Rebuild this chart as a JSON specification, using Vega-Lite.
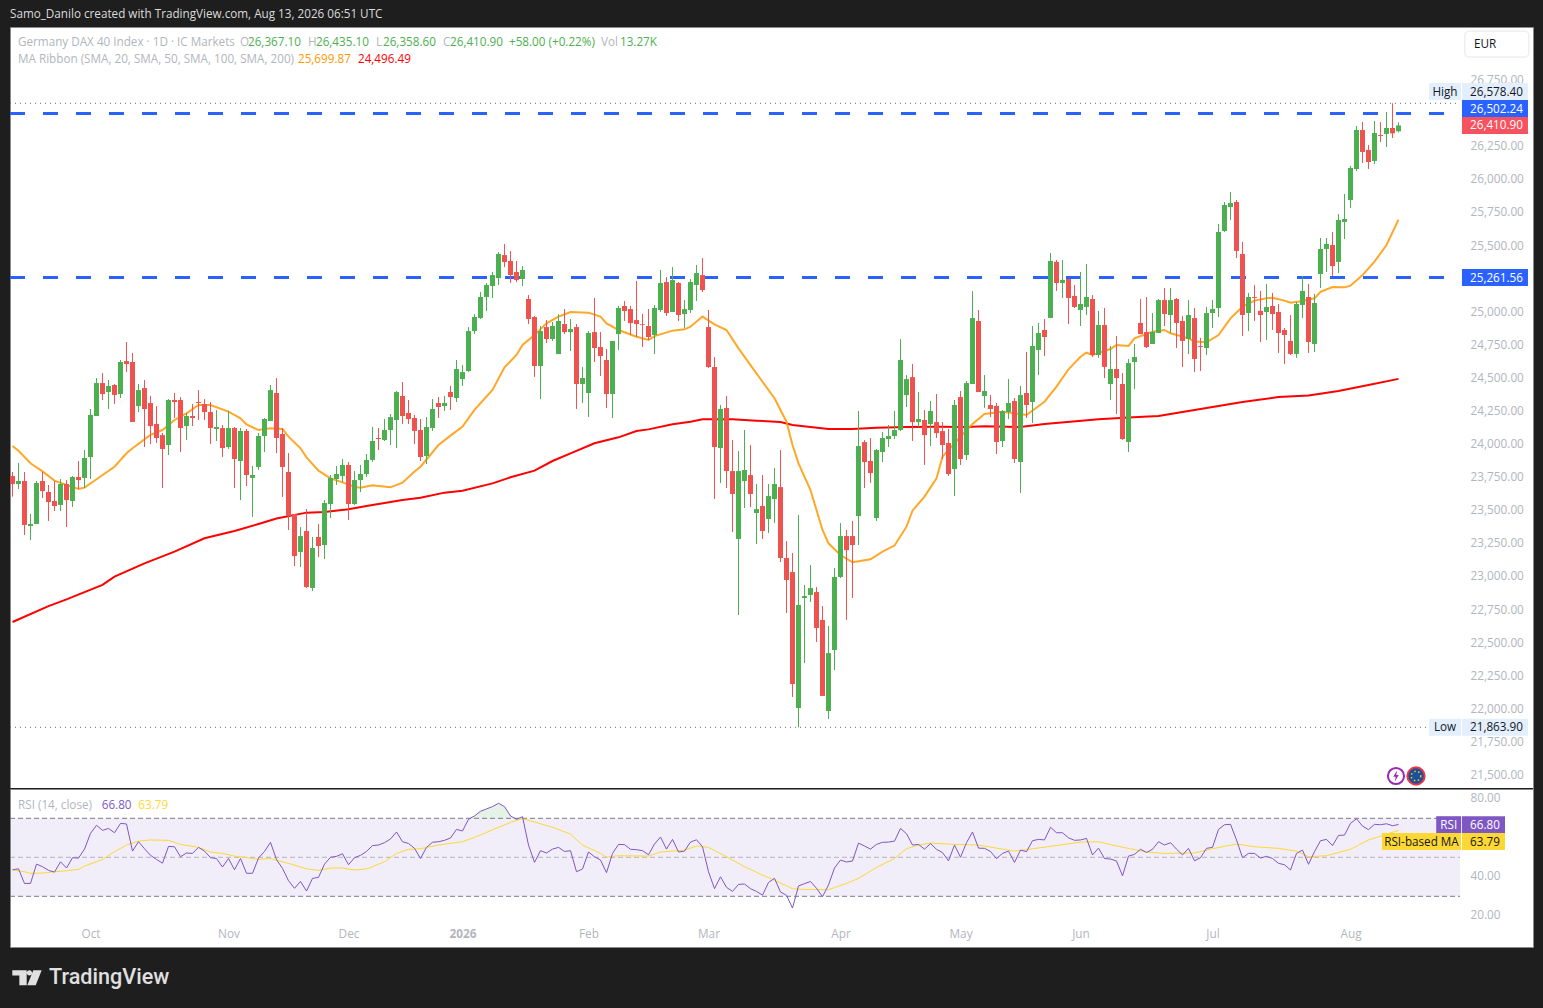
{
  "$schema": "https://vega.github.io/schema/vega-lite/v6.json",
  "background": "#1e1e1e",
  "padding": {"left": 8, "right": 8, "top": 0, "bottom": 0},
  "bounds": "flush",
  "spacing": 0,
  "resolve": {"scale": {"color": "independent"}},
  "config": {
    "text": {"font": "Open Sans", "fontSize": 11.7},
    "axis": {"labelFont": "Open Sans", "labelFontSize": 11.8, "labelColor": "#b2b5be"}
  },
  "datasets": {
    "candles": [
      {"i":0,"o":23763,"h":23793,"l":23607,"c":23702},{"i":1,"o":23702,"h":23861,"l":23664,"c":23725},{"i":2,"o":23725,"h":23793,"l":23317,"c":23393},{"i":3,"o":23385,"h":23476,"l":23279,"c":23400},
      {"i":4,"o":23400,"h":23725,"l":23400,"c":23710},{"i":5,"o":23725,"h":23793,"l":23597,"c":23649},{"i":6,"o":23642,"h":23695,"l":23423,"c":23566},{"i":7,"o":23574,"h":23725,"l":23498,"c":23536},
      {"i":8,"o":23544,"h":23740,"l":23498,"c":23702},{"i":9,"o":23702,"h":23732,"l":23377,"c":23581},{"i":10,"o":23574,"h":23763,"l":23529,"c":23755},{"i":11,"o":23755,"h":23876,"l":23664,"c":23732},
      {"i":12,"o":23748,"h":23959,"l":23672,"c":23899},{"i":13,"o":23906,"h":24269,"l":23740,"c":24224},{"i":14,"o":24216,"h":24503,"l":24216,"c":24465},{"i":15,"o":24465,"h":24541,"l":24337,"c":24382},
      {"i":16,"o":24397,"h":24488,"l":24269,"c":24443},{"i":17,"o":24450,"h":24458,"l":24307,"c":24375},{"i":18,"o":24382,"h":24639,"l":24352,"c":24624},{"i":19,"o":24631,"h":24775,"l":24548,"c":24609},
      {"i":20,"o":24624,"h":24692,"l":24171,"c":24171},{"i":21,"o":24291,"h":24458,"l":24246,"c":24412},{"i":22,"o":24427,"h":24488,"l":23982,"c":24269},{"i":23,"o":24314,"h":24367,"l":24004,"c":24140},
      {"i":24,"o":24156,"h":24291,"l":24012,"c":24050},{"i":25,"o":24072,"h":24088,"l":23672,"c":23967},{"i":26,"o":23997,"h":24344,"l":23921,"c":24337},{"i":27,"o":24337,"h":24390,"l":24201,"c":24322},
      {"i":28,"o":24337,"h":24359,"l":23944,"c":24125},{"i":29,"o":24140,"h":24239,"l":24035,"c":24216},{"i":30,"o":24216,"h":24307,"l":24140,"c":24201},{"i":31,"o":24322,"h":24412,"l":24186,"c":24314},
      {"i":32,"o":24307,"h":24344,"l":24186,"c":24246},{"i":33,"o":24246,"h":24322,"l":24004,"c":24125},{"i":34,"o":24118,"h":24261,"l":24027,"c":24133},{"i":35,"o":24125,"h":24148,"l":23906,"c":23974},
      {"i":36,"o":23982,"h":24254,"l":23967,"c":24125},{"i":37,"o":24125,"h":24133,"l":23672,"c":23891},{"i":38,"o":23876,"h":24125,"l":23581,"c":24103},{"i":39,"o":24103,"h":24118,"l":23687,"c":23770},
      {"i":40,"o":23748,"h":23838,"l":23453,"c":23770},{"i":41,"o":23831,"h":24088,"l":23808,"c":24065},{"i":42,"o":24065,"h":24201,"l":23944,"c":24193},{"i":43,"o":24178,"h":24450,"l":24178,"c":24412},
      {"i":44,"o":24390,"h":24503,"l":23936,"c":24050},{"i":45,"o":24080,"h":24125,"l":23604,"c":23831},{"i":46,"o":23793,"h":23936,"l":23355,"c":23461},{"i":47,"o":23476,"h":23476,"l":23083,"c":23158},
      {"i":48,"o":23189,"h":23377,"l":23075,"c":23309},{"i":49,"o":23347,"h":23513,"l":22917,"c":22924},{"i":50,"o":22917,"h":23302,"l":22894,"c":23219},{"i":51,"o":23302,"h":23400,"l":23151,"c":23234},
      {"i":52,"o":23241,"h":23581,"l":23136,"c":23559},{"i":53,"o":23551,"h":23770,"l":23445,"c":23748},{"i":54,"o":23740,"h":23838,"l":23695,"c":23778},{"i":55,"o":23763,"h":23891,"l":23717,"c":23846},
      {"i":56,"o":23846,"h":23868,"l":23430,"c":23551},{"i":57,"o":23551,"h":23800,"l":23544,"c":23732},{"i":58,"o":23732,"h":23846,"l":23642,"c":23778},{"i":59,"o":23778,"h":23929,"l":23755,"c":23884},
      {"i":60,"o":23884,"h":24133,"l":23868,"c":24027},{"i":61,"o":24050,"h":24125,"l":23959,"c":24042},{"i":62,"o":24035,"h":24193,"l":24027,"c":24110},{"i":63,"o":24110,"h":24231,"l":23997,"c":24208},
      {"i":64,"o":24186,"h":24405,"l":23974,"c":24397},{"i":65,"o":24367,"h":24473,"l":24156,"c":24216},{"i":66,"o":24239,"h":24337,"l":24156,"c":24193},{"i":67,"o":24201,"h":24224,"l":24004,"c":24103},
      {"i":68,"o":24110,"h":24193,"l":23876,"c":23906},{"i":69,"o":23914,"h":24208,"l":23853,"c":24133},{"i":70,"o":24125,"h":24344,"l":24103,"c":24269},{"i":71,"o":24314,"h":24359,"l":24201,"c":24284},
      {"i":72,"o":24291,"h":24367,"l":24254,"c":24314},{"i":73,"o":24397,"h":24443,"l":24261,"c":24359},{"i":74,"o":24352,"h":24639,"l":24322,"c":24571},{"i":75,"o":24495,"h":24601,"l":24443,"c":24548},
      {"i":76,"o":24556,"h":24888,"l":24548,"c":24858},{"i":77,"o":24858,"h":24986,"l":24835,"c":24964},{"i":78,"o":24956,"h":25153,"l":24949,"c":25115},{"i":79,"o":25115,"h":25221,"l":25009,"c":25206},
      {"i":80,"o":25198,"h":25304,"l":25107,"c":25281},{"i":81,"o":25258,"h":25455,"l":25206,"c":25440},{"i":82,"o":25432,"h":25515,"l":25341,"c":25379},{"i":83,"o":25387,"h":25462,"l":25221,"c":25281},
      {"i":84,"o":25304,"h":25387,"l":25228,"c":25243},{"i":85,"o":25251,"h":25349,"l":25198,"c":25319},{"i":86,"o":25100,"h":25130,"l":24911,"c":24949},{"i":87,"o":24964,"h":24971,"l":24511,"c":24594},
      {"i":88,"o":24594,"h":24896,"l":24344,"c":24858},{"i":89,"o":24888,"h":24941,"l":24767,"c":24798},{"i":90,"o":24798,"h":24926,"l":24783,"c":24896},{"i":91,"o":24684,"h":24986,"l":24684,"c":24934},
      {"i":92,"o":24911,"h":25024,"l":24835,"c":24850},{"i":93,"o":24850,"h":24949,"l":24707,"c":24873},{"i":94,"o":24888,"h":24911,"l":24269,"c":24458},{"i":95,"o":24458,"h":24586,"l":24314,"c":24503},
      {"i":96,"o":24390,"h":24858,"l":24208,"c":24843},{"i":97,"o":24850,"h":25107,"l":24624,"c":24730},{"i":98,"o":24737,"h":24850,"l":24518,"c":24669},{"i":99,"o":24639,"h":24722,"l":24276,"c":24382},
      {"i":100,"o":24382,"h":24783,"l":24201,"c":24783},{"i":101,"o":24835,"h":25047,"l":24715,"c":25032},{"i":102,"o":25047,"h":25085,"l":24934,"c":25009},{"i":103,"o":25024,"h":25047,"l":24828,"c":24918},
      {"i":104,"o":24941,"h":25236,"l":24813,"c":24911},{"i":105,"o":24909,"h":24986,"l":24737,"c":24903},{"i":106,"o":24896,"h":25024,"l":24790,"c":24813},{"i":107,"o":24828,"h":25054,"l":24684,"c":25032},
      {"i":108,"o":25017,"h":25319,"l":25002,"c":25221},{"i":109,"o":25228,"h":25266,"l":24971,"c":24994},{"i":110,"o":25002,"h":25341,"l":25002,"c":25243},{"i":111,"o":25221,"h":25228,"l":24934,"c":24979},
      {"i":112,"o":24986,"h":25092,"l":24881,"c":25024},{"i":113,"o":25017,"h":25251,"l":24994,"c":25228},{"i":114,"o":25206,"h":25357,"l":25085,"c":25296},{"i":115,"o":25281,"h":25409,"l":25153,"c":25168},
      {"i":116,"o":24888,"h":25017,"l":24578,"c":24586},{"i":117,"o":24586,"h":24661,"l":23589,"c":23982},{"i":118,"o":23974,"h":24299,"l":23710,"c":24269},{"i":119,"o":24276,"h":24367,"l":23672,"c":23800},
      {"i":120,"o":23800,"h":24034,"l":23339,"c":23627},{"i":121,"o":23287,"h":23951,"l":22712,"c":23800},{"i":122,"o":23725,"h":24110,"l":23521,"c":23808},{"i":123,"o":23770,"h":23997,"l":23528,"c":23627},
      {"i":124,"o":23483,"h":23702,"l":23249,"c":23513},{"i":125,"o":23536,"h":23770,"l":23287,"c":23347},{"i":126,"o":23438,"h":23702,"l":23332,"c":23611},{"i":127,"o":23589,"h":23823,"l":23407,"c":23702},
      {"i":128,"o":23679,"h":23959,"l":23113,"c":23143},{"i":129,"o":23143,"h":23271,"l":22728,"c":22977},{"i":130,"o":23037,"h":23181,"l":22093,"c":22191},{"i":131,"o":22010,"h":23468,"l":21864,"c":22788},
      {"i":132,"o":22841,"h":22939,"l":22350,"c":22856},{"i":133,"o":22864,"h":23090,"l":22811,"c":22916},{"i":134,"o":22886,"h":22924,"l":22509,"c":22614},{"i":135,"o":22675,"h":22780,"l":22101,"c":22101},
      {"i":136,"o":21987,"h":22629,"l":21927,"c":22425},{"i":137,"o":22448,"h":23068,"l":22297,"c":23000},{"i":138,"o":23000,"h":23407,"l":22992,"c":23309},{"i":139,"o":23309,"h":23355,"l":22675,"c":23203},
      {"i":140,"o":23309,"h":23423,"l":22841,"c":23241},{"i":141,"o":23460,"h":24254,"l":23241,"c":23989},{"i":142,"o":24019,"h":24034,"l":23672,"c":23868},{"i":143,"o":23876,"h":24050,"l":23710,"c":23785},
      {"i":144,"o":23445,"h":23966,"l":23423,"c":23959},{"i":145,"o":23944,"h":24095,"l":23868,"c":24050},{"i":146,"o":24042,"h":24148,"l":23982,"c":24065},{"i":147,"o":24065,"h":24254,"l":24042,"c":24110},
      {"i":148,"o":24110,"h":24797,"l":24102,"c":24639},{"i":149,"o":24374,"h":24525,"l":24284,"c":24495},{"i":150,"o":24510,"h":24609,"l":24027,"c":24170},{"i":151,"o":24170,"h":24397,"l":24133,"c":24193},
      {"i":152,"o":24186,"h":24261,"l":23846,"c":24072},{"i":153,"o":24155,"h":24329,"l":23989,"c":24254},{"i":154,"o":24170,"h":24382,"l":24050,"c":24087},{"i":155,"o":24102,"h":24170,"l":23891,"c":23997},
      {"i":156,"o":24012,"h":24118,"l":23763,"c":23778},{"i":157,"o":23815,"h":24337,"l":23611,"c":24299},{"i":158,"o":24359,"h":24405,"l":23846,"c":23891},{"i":159,"o":23921,"h":24480,"l":23883,"c":24465},
      {"i":160,"o":24458,"h":25160,"l":24458,"c":24956},{"i":161,"o":24934,"h":25017,"l":24397,"c":24397},{"i":162,"o":24367,"h":24526,"l":24277,"c":24405},{"i":163,"o":24299,"h":24375,"l":24208,"c":24269},
      {"i":164,"o":24292,"h":24314,"l":23929,"c":24020},{"i":165,"o":24027,"h":24261,"l":23982,"c":24254},{"i":166,"o":24246,"h":24496,"l":24193,"c":24314},{"i":167,"o":24329,"h":24352,"l":23861,"c":23891},
      {"i":168,"o":23869,"h":24443,"l":23634,"c":24375},{"i":169,"o":24390,"h":24700,"l":24201,"c":24299},{"i":170,"o":24322,"h":24896,"l":24163,"c":24745},{"i":171,"o":24715,"h":24919,"l":24526,"c":24843},
      {"i":172,"o":24866,"h":24949,"l":24669,"c":24813},{"i":173,"o":24957,"h":25448,"l":24957,"c":25387},{"i":174,"o":25380,"h":25395,"l":25161,"c":25221},{"i":175,"o":25221,"h":25395,"l":25108,"c":25244},
      {"i":176,"o":25251,"h":25251,"l":24911,"c":25108},{"i":177,"o":25123,"h":25206,"l":25032,"c":25040},{"i":178,"o":25017,"h":25304,"l":24896,"c":25062},{"i":179,"o":25040,"h":25365,"l":24979,"c":25115},
      {"i":180,"o":25100,"h":25130,"l":24662,"c":24677},{"i":181,"o":24677,"h":25010,"l":24655,"c":24904},{"i":182,"o":24904,"h":25032,"l":24503,"c":24587},{"i":183,"o":24458,"h":24745,"l":24337,"c":24571},
      {"i":184,"o":24571,"h":24821,"l":24231,"c":24503},{"i":185,"o":24458,"h":24541,"l":24035,"c":24042},{"i":186,"o":24020,"h":24647,"l":23944,"c":24616},{"i":187,"o":24624,"h":24760,"l":24420,"c":24662},
      {"i":188,"o":24919,"h":25100,"l":24835,"c":24835},{"i":189,"o":24851,"h":25115,"l":24730,"c":24737},{"i":190,"o":24760,"h":24994,"l":24760,"c":24851},{"i":191,"o":24843,"h":25100,"l":24843,"c":25092},
      {"i":192,"o":25092,"h":25183,"l":24896,"c":24987},{"i":193,"o":24979,"h":25183,"l":24843,"c":25092},{"i":194,"o":25100,"h":25107,"l":24730,"c":24919},{"i":195,"o":24934,"h":24971,"l":24586,"c":24783},
      {"i":196,"o":24798,"h":25092,"l":24684,"c":24979},{"i":197,"o":24956,"h":25032,"l":24548,"c":24647},{"i":198,"o":24745,"h":24806,"l":24556,"c":24738},{"i":199,"o":24730,"h":25040,"l":24677,"c":24994},
      {"i":200,"o":24994,"h":25093,"l":24881,"c":25025},{"i":201,"o":25032,"h":25667,"l":24964,"c":25606},{"i":202,"o":25614,"h":25833,"l":25606,"c":25810},{"i":203,"o":25795,"h":25908,"l":25697,"c":25825},
      {"i":204,"o":25833,"h":25848,"l":25410,"c":25463},{"i":205,"o":25440,"h":25531,"l":24821,"c":24979},{"i":206,"o":24994,"h":25146,"l":24858,"c":25115},{"i":207,"o":25115,"h":25206,"l":24934,"c":25108},
      {"i":208,"o":25010,"h":25161,"l":24775,"c":24979},{"i":209,"o":25002,"h":25214,"l":24790,"c":25040},{"i":210,"o":25047,"h":25146,"l":24866,"c":24987},{"i":211,"o":25002,"h":25062,"l":24692,"c":24843},
      {"i":212,"o":24866,"h":24881,"l":24609,"c":24828},{"i":213,"o":24783,"h":24979,"l":24677,"c":24685},{"i":214,"o":24685,"h":25078,"l":24655,"c":25062},{"i":215,"o":25055,"h":25274,"l":24957,"c":25161},
      {"i":216,"o":25115,"h":25214,"l":24692,"c":24775},{"i":217,"o":24760,"h":25138,"l":24700,"c":25070},{"i":218,"o":25289,"h":25561,"l":25183,"c":25478},{"i":219,"o":25478,"h":25561,"l":25304,"c":25516},
      {"i":220,"o":25508,"h":25606,"l":25274,"c":25349},{"i":221,"o":25380,"h":25742,"l":25297,"c":25697},{"i":222,"o":25682,"h":25893,"l":25553,"c":25705},{"i":223,"o":25848,"h":26105,"l":25788,"c":26090},
      {"i":224,"o":26082,"h":26407,"l":26067,"c":26377},{"i":225,"o":26377,"h":26437,"l":26128,"c":26211},{"i":226,"o":26226,"h":26264,"l":26082,"c":26135},{"i":227,"o":26143,"h":26445,"l":26120,"c":26354},
      {"i":228,"o":26339,"h":26437,"l":26286,"c":26332},{"i":229,"o":26347,"h":26513,"l":26248,"c":26392},{"i":230,"o":26392,"h":26578.4,"l":26316,"c":26352},{"i":231,"o":26367.1,"h":26435.1,"l":26358.6,"c":26410.9}
    ],
    "ma20": [
      {"i":0,"p":23990},{"i":1,"p":23954},{"i":3,"p":23859},{"i":5,"p":23798},{"i":7,"p":23728},{"i":9,"p":23695},{"i":11,"p":23665},{"i":12,"p":23675},{"i":14,"p":23738},{"i":17,"p":23833},{"i":19,"p":23934},{"i":20,"p":23972},{"i":23,"p":24073},{"i":25,"p":24110},{"i":27,"p":24186},{"i":29,"p":24236},{"i":31,"p":24299},{"i":33,"p":24299},{"i":36,"p":24249},{"i":38,"p":24198},{"i":39,"p":24153},{"i":41,"p":24110},{"i":43,"p":24123},{"i":45,"p":24118},{"i":46,"p":24060},{"i":48,"p":23972},{"i":49,"p":23904},{"i":51,"p":23803},{"i":53,"p":23745},{"i":55,"p":23715},{"i":57,"p":23682},{"i":58,"p":23675},{"i":60,"p":23692},{"i":61,"p":23687},{"i":63,"p":23677},{"i":65,"p":23712},{"i":67,"p":23796},{"i":68,"p":23833},{"i":71,"p":23997},{"i":73,"p":24068},{"i":75,"p":24136},{"i":77,"p":24262},{"i":80,"p":24413},{"i":82,"p":24584},{"i":84,"p":24677},{"i":85,"p":24753},{"i":87,"p":24828},{"i":89,"p":24916},{"i":91,"p":24967},{"i":93,"p":25002},{"i":96,"p":24997},{"i":98,"p":24967},{"i":99,"p":24916},{"i":101,"p":24866},{"i":104,"p":24815},{"i":106,"p":24790},{"i":107,"p":24820},{"i":110,"p":24861},{"i":112,"p":24871},{"i":113,"p":24891},{"i":115,"p":24967},{"i":117,"p":24909},{"i":119,"p":24866},{"i":121,"p":24727},{"i":123,"p":24601},{"i":125,"p":24475},{"i":127,"p":24350},{"i":129,"p":24173},{"i":130,"p":23997},{"i":131,"p":23858},{"i":133,"p":23657},{"i":134,"p":23506},{"i":135,"p":23355},{"i":136,"p":23254},{"i":138,"p":23166},{"i":140,"p":23111},{"i":143,"p":23133},{"i":145,"p":23191},{"i":147,"p":23237},{"i":149,"p":23380},{"i":150,"p":23501},{"i":152,"p":23607},{"i":154,"p":23745},{"i":155,"p":23909},{"i":158,"p":24060},{"i":160,"p":24156},{"i":162,"p":24231},{"i":165,"p":24249},{"i":169,"p":24224},{"i":172,"p":24324},{"i":174,"p":24438},{"i":176,"p":24569},{"i":178,"p":24664},{"i":179,"p":24694},{"i":180,"p":24677},{"i":183,"p":24722},{"i":184,"p":24753},{"i":186,"p":24745},{"i":187,"p":24803},{"i":190,"p":24853},{"i":192,"p":24866},{"i":193,"p":24841},{"i":196,"p":24803},{"i":197,"p":24778},{"i":199,"p":24773},{"i":201,"p":24828},{"i":203,"p":24954},{"i":205,"p":25042},{"i":207,"p":25088},{"i":209,"p":25105},{"i":210,"p":25110},{"i":212,"p":25088},{"i":213,"p":25072},{"i":215,"p":25085},{"i":217,"p":25105},{"i":218,"p":25155},{"i":220,"p":25191},{"i":222,"p":25188},{"i":223,"p":25201},{"i":225,"p":25281},{"i":227,"p":25382},{"i":229,"p":25508},{"i":231,"p":25699.87}
    ],
    "ma200": [
      {"i":0,"p":22660},{"i":6,"p":22780},{"i":9,"p":22831},{"i":15,"p":22940},{"i":17,"p":23002},{"i":22,"p":23103},{"i":27,"p":23191},{"i":32,"p":23292},{"i":37,"p":23347},{"i":41,"p":23400},{"i":44,"p":23441},{"i":49,"p":23486},{"i":52,"p":23491},{"i":56,"p":23511},{"i":59,"p":23536},{"i":65,"p":23582},{"i":68,"p":23599},{"i":72,"p":23637},{"i":75,"p":23652},{"i":80,"p":23707},{"i":83,"p":23753},{"i":87,"p":23803},{"i":90,"p":23876},{"i":93,"p":23934},{"i":97,"p":24010},{"i":101,"p":24055},{"i":104,"p":24103},{"i":106,"p":24115},{"i":110,"p":24153},{"i":113,"p":24173},{"i":115,"p":24191},{"i":120,"p":24191},{"i":124,"p":24181},{"i":128,"p":24171},{"i":130,"p":24148},{"i":136,"p":24118},{"i":140,"p":24118},{"i":144,"p":24128},{"i":149,"p":24133},{"i":154,"p":24135},{"i":159,"p":24133},{"i":162,"p":24138},{"i":168,"p":24133},{"i":172,"p":24156},{"i":181,"p":24191},{"i":186,"p":24204},{"i":191,"p":24216},{"i":196,"p":24253},{"i":201,"p":24291},{"i":205,"p":24322},{"i":211,"p":24359},{"i":216,"p":24371},{"i":221,"p":24405},{"i":226,"p":24450},{"i":231,"p":24496.49}
    ],
    "rsi": [
      {"i":0,"v":43.6},{"i":1,"v":44.1},{"i":2,"v":36.6},{"i":3,"v":36.6},{"i":4,"v":46.5},{"i":5,"v":45.2},{"i":6,"v":43.3},{"i":7,"v":42.4},{"i":8,"v":47.7},{"i":9,"v":44.5},{"i":10,"v":49.8},{"i":11,"v":49.6},{"i":12,"v":54.2},{"i":13,"v":62.3},{"i":14,"v":66.4},{"i":15,"v":63.8},{"i":16,"v":64.8},{"i":17,"v":62.6},{"i":18,"v":67.4},{"i":19,"v":67.1},
      {"i":20,"v":53.2},{"i":21,"v":58},{"i":22,"v":54.4},{"i":23,"v":51},{"i":24,"v":48.9},{"i":25,"v":47},{"i":26,"v":55.6},{"i":27,"v":55.4},{"i":28,"v":50.3},{"i":29,"v":52.2},{"i":30,"v":52},{"i":31,"v":55.1},{"i":32,"v":53.2},{"i":33,"v":49.8},{"i":34,"v":49.4},{"i":35,"v":45},{"i":36,"v":49.4},{"i":37,"v":43.6},{"i":38,"v":49.4},{"i":39,"v":41.8},
      {"i":40,"v":41.8},{"i":41,"v":49.6},{"i":42,"v":53},{"i":43,"v":57.7},{"i":44,"v":48.8},{"i":45,"v":44.3},{"i":46,"v":38},{"i":47,"v":34.1},{"i":48,"v":37.6},{"i":49,"v":32.7},{"i":50,"v":39.2},{"i":51,"v":39.7},{"i":52,"v":46.5},{"i":53,"v":50},{"i":54,"v":50.5},{"i":55,"v":51.8},{"i":56,"v":46.2},{"i":57,"v":49.8},{"i":58,"v":51},{"i":59,"v":53},
      {"i":60,"v":56},{"i":61,"v":56.3},{"i":62,"v":57.5},{"i":63,"v":59.4},{"i":64,"v":63},{"i":65,"v":58},{"i":66,"v":57.1},{"i":67,"v":54.6},{"i":68,"v":49.4},{"i":69,"v":55.1},{"i":70,"v":57.7},{"i":71,"v":58},{"i":72,"v":58.7},{"i":73,"v":59.9},{"i":74,"v":64.3},{"i":75,"v":63.5},{"i":76,"v":69.5},{"i":77,"v":71.2},{"i":78,"v":73.6},{"i":79,"v":74.8},
      {"i":80,"v":76},{"i":81,"v":77.7},{"i":82,"v":76},{"i":83,"v":71.2},{"i":84,"v":69.5},{"i":85,"v":70.8},{"i":86,"v":56.3},{"i":87,"v":47.4},{"i":88,"v":53.4},{"i":89,"v":52.2},{"i":90,"v":54.2},{"i":91,"v":55.1},{"i":92,"v":53},{"i":93,"v":53.4},{"i":94,"v":42.6},{"i":95,"v":44},{"i":96,"v":52.7},{"i":97,"v":50.3},{"i":98,"v":48.6},{"i":99,"v":42.1},
      {"i":100,"v":52},{"i":101,"v":56.6},{"i":102,"v":56.5},{"i":103,"v":54.1},{"i":104,"v":53.9},{"i":105,"v":53.4},{"i":106,"v":51.3},{"i":107,"v":56.8},{"i":108,"v":60.4},{"i":109,"v":54.2},{"i":110,"v":59.2},{"i":111,"v":52.7},{"i":112,"v":53.2},{"i":113,"v":57.8},{"i":114,"v":59},{"i":115,"v":55.4},{"i":116,"v":42.6},{"i":117,"v":33.9},{"i":118,"v":40},{"i":119,"v":34.6},
      {"i":120,"v":32.5},{"i":121,"v":36.1},{"i":122,"v":36.3},{"i":123,"v":33.9},{"i":124,"v":32.5},{"i":125,"v":30.6},{"i":126,"v":37.1},{"i":127,"v":39.2},{"i":128,"v":32.2},{"i":129,"v":30.5},{"i":130,"v":24},{"i":131,"v":35.3},{"i":132,"v":36.5},{"i":133,"v":37.6},{"i":134,"v":34.1},{"i":135,"v":29.8},{"i":136,"v":35.8},{"i":137,"v":44.5},{"i":138,"v":48.6},{"i":139,"v":47.6},
      {"i":140,"v":48.1},{"i":141,"v":57.3},{"i":142,"v":55.8},{"i":143,"v":54.2},{"i":144,"v":56.6},{"i":145,"v":57.7},{"i":146,"v":57.8},{"i":147,"v":58.3},{"i":148,"v":64.8},{"i":149,"v":62.1},{"i":150,"v":56.3},{"i":151,"v":56.6},{"i":152,"v":54.2},{"i":153,"v":57},{"i":154,"v":54.1},{"i":155,"v":52.4},{"i":156,"v":48.2},{"i":157,"v":56.3},{"i":158,"v":50},{"i":159,"v":57.5},
      {"i":160,"v":63},{"i":161,"v":54.7},{"i":162,"v":54.6},{"i":163,"v":53},{"i":164,"v":49.3},{"i":165,"v":52},{"i":166,"v":53.2},{"i":167,"v":47.4},{"i":168,"v":53.7},{"i":169,"v":52.9},{"i":170,"v":58.5},{"i":171,"v":59.2},{"i":172,"v":58.9},{"i":173,"v":65.4},{"i":174,"v":62.6},{"i":175,"v":62.6},{"i":176,"v":60},{"i":177,"v":58.7},{"i":178,"v":58.9},{"i":179,"v":59.7},
      {"i":180,"v":51.2},{"i":181,"v":54.7},{"i":182,"v":49.4},{"i":183,"v":49.1},{"i":184,"v":48.1},{"i":185,"v":40.5},{"i":186,"v":50.6},{"i":187,"v":51.5},{"i":188,"v":54.1},{"i":189,"v":52.5},{"i":190,"v":54.1},{"i":191,"v":58},{"i":192,"v":56.3},{"i":193,"v":57.5},{"i":194,"v":54.2},{"i":195,"v":51.2},{"i":196,"v":54.6},{"i":197,"v":48.2},{"i":198,"v":49.8},{"i":199,"v":54.6},
      {"i":200,"v":55.1},{"i":201,"v":64.3},{"i":202,"v":66.7},{"i":203,"v":66.9},{"i":204,"v":58.9},{"i":205,"v":49.8},{"i":206,"v":52},{"i":207,"v":52},{"i":208,"v":49.6},{"i":209,"v":50.5},{"i":210,"v":49.4},{"i":211,"v":46.9},{"i":212,"v":46.2},{"i":213,"v":43.5},{"i":214,"v":52},{"i":215,"v":53.7},{"i":216,"v":46.4},{"i":217,"v":52.9},{"i":218,"v":58.5},{"i":219,"v":59.2},
      {"i":220,"v":56},{"i":221,"v":61.2},{"i":222,"v":61.4},{"i":223,"v":67.4},{"i":224,"v":69.8},{"i":225,"v":66},{"i":226,"v":64.2},{"i":227,"v":66.9},{"i":228,"v":66.7},{"i":229,"v":67.2},{"i":230,"v":66.2},{"i":231,"v":66.8}
    ],
    "rsiMa": [
      {"i":0,"v":43.5},{"i":2,"v":42.6},{"i":3,"v":41.8},{"i":5,"v":41.9},{"i":7,"v":42.6},{"i":9,"v":43.1},{"i":11,"v":43.8},{"i":12,"v":45.5},{"i":15,"v":48.9},{"i":17,"v":52.9},{"i":19,"v":56.3},{"i":21,"v":58.3},{"i":23,"v":58.9},{"i":26,"v":58.7},{"i":28,"v":56.6},{"i":31,"v":55.1},{"i":33,"v":52.7},{"i":35,"v":52},{"i":37,"v":50.6},{"i":38,"v":50.3},{"i":41,"v":48.9},{"i":43,"v":49.4},{"i":46,"v":46.9},{"i":49,"v":44.1},{"i":51,"v":43.3},{"i":53,"v":44.5},{"i":55,"v":44.5},{"i":57,"v":43.5},{"i":59,"v":44},{"i":62,"v":47.7},{"i":64,"v":52},{"i":66,"v":54.1},{"i":68,"v":54.4},{"i":71,"v":56.3},{"i":75,"v":58},{"i":77,"v":60.2},{"i":81,"v":65.4},{"i":83,"v":67.9},{"i":85,"v":69.8},{"i":87,"v":68.1},{"i":90,"v":65.4},{"i":93,"v":61.9},{"i":95,"v":56.3},{"i":98,"v":52},{"i":99,"v":50.1},{"i":101,"v":50.8},{"i":106,"v":50.6},{"i":108,"v":52.7},{"i":112,"v":53.7},{"i":114,"v":55.8},{"i":116,"v":55.1},{"i":119,"v":50.3},{"i":122,"v":45.2},{"i":125,"v":40.9},{"i":127,"v":38.3},{"i":130,"v":33.9},{"i":132,"v":33.5},{"i":136,"v":33.4},{"i":139,"v":36.6},{"i":141,"v":39.2},{"i":144,"v":44.8},{"i":147,"v":49.4},{"i":149,"v":54.4},{"i":151,"v":56.3},{"i":153,"v":57.3},{"i":157,"v":56.6},{"i":161,"v":56.3},{"i":165,"v":54.2},{"i":167,"v":53.2},{"i":170,"v":54.4},{"i":173,"v":55.6},{"i":178,"v":57.8},{"i":181,"v":58},{"i":184,"v":55.8},{"i":189,"v":52.7},{"i":192,"v":52},{"i":197,"v":52.2},{"i":200,"v":54.4},{"i":204,"v":56.8},{"i":207,"v":55.4},{"i":211,"v":54.6},{"i":214,"v":53.2},{"i":216,"v":50.3},{"i":219,"v":50.8},{"i":223,"v":54.1},{"i":226,"v":58.9},{"i":231,"v":63.79}
    ],
    "legendText": [
      {"text":"Germany DAX 40 Index · 1D · IC Markets","i":0.92,"p":27041,"kind":"muted"},
      {"text":"O","i":37.92,"p":27041,"kind":"muted"},{"text":"26,367.10","i":39.25,"p":27041,"kind":"up"},
      {"text":"H","i":49.25,"p":27041,"kind":"muted"},{"text":"26,435.10","i":50.58,"p":27041,"kind":"up"},
      {"text":"L","i":60.58,"p":27041,"kind":"muted"},{"text":"26,358.60","i":61.75,"p":27041,"kind":"up"},
      {"text":"C","i":71.75,"p":27041,"kind":"muted"},{"text":"26,410.90","i":72.92,"p":27041,"kind":"up"},
      {"text":"+58.00 (+0.22%)","i":82.75,"p":27041,"kind":"up"},
      {"text":"Vol","i":98.08,"p":27041,"kind":"muted"},{"text":"13.27K","i":101.25,"p":27041,"kind":"up"},
      {"text":"MA Ribbon (SMA, 20, SMA, 50, SMA, 100, SMA, 200)","i":0.92,"p":26913,"kind":"muted"},
      {"text":"25,699.87","i":47.58,"p":26913,"kind":"ma20"},{"text":"24,496.49","i":57.58,"p":26913,"kind":"ma200"}
    ],
    "priceTags": [
      {"text":"26,578.40","at":26667,"kind":"plain"},{"text":"26,502.24","at":26539,"kind":"blue"},{"text":"26,410.90","at":26411,"kind":"red"},{"text":"25,261.56","at":25261.56,"kind":"blue"},{"text":"21,863.90","at":21863.9,"kind":"plain"}
    ],
    "sideTags": [{"text":"High","at":26667},{"text":"Low","at":21863.9}]
  },
  "vconcat": [
    {
      "width": 1523,
      "height": 27,
      "view": {"stroke": null},
      "data": {"values": [{"text": "Samo_Danilo created with TradingView.com, Aug 13, 2026 06:51 UTC"}]},
      "mark": {"type": "text", "align": "left", "baseline": "middle", "color": "#dbdbdb"},
      "encoding": {
        "x": {"datum": 0, "type": "quantitative", "scale": {"domain": [0, 1]}, "axis": null},
        "y": {"datum": 0.48, "type": "quantitative", "scale": {"domain": [0, 1]}, "axis": null},
        "text": {"field": "text"}
      }
    },
    {
      "width": 1523,
      "height": 762,
      "view": {"fill": "#ffffff", "stroke": "#8a8a8a"},
      "layer": [
        {
          "data": {"name": "ma200"},
          "mark": {"type": "line", "color": "#ff0000", "strokeWidth": 2},
          "encoding": {
            "x": {"field": "i", "type": "quantitative", "scale": {"domain": [-0.4167, 253.4167], "nice": false, "zero": false, "padding": 0}, "axis": null},
            "y": {
              "field": "p",
              "type": "quantitative",
              "scale": {"domain": [21398, 27155], "nice": false, "zero": false},
              "axis": {
                "orient": "right",
                "title": null,
                "offset": -63,
                "values": [26750, 26250, 26000, 25750, 25500, 25000, 24750, 24500, 24250, 24000, 23750, 23500, 23250, 23000, 22750, 22500, 22250, 22000, 21750, 21500],
                "format": ",.2f",
                "labelAlign": "left",
                "labelBaseline": "middle",
                "labelPadding": 0,
                "labelOffset": -1,
                "ticks": false,
                "domain": false,
                "grid": false
              }
            }
          }
        },
        {
          "data": {"name": "ma20"},
          "mark": {"type": "line", "color": "#ff9800", "strokeWidth": 2, "opacity": 0.85},
          "encoding": {
            "x": {"field": "i", "type": "quantitative", "axis": null},
            "y": {"field": "p", "type": "quantitative"}
          }
        },
        {
          "data": {"values": [{"level": 26502.24}, {"level": 25261.56}]},
          "mark": {"type": "rule", "color": "#2962ff", "strokeWidth": 3, "strokeDash": [15, 18]},
          "encoding": {
            "x": {"datum": -0.4167, "type": "quantitative", "axis": null},
            "x2": {"datum": 238.6},
            "y": {"field": "level", "type": "quantitative"}
          }
        },
        {
          "data": {"values": [{"level": 26578.4}, {"level": 21863.9}]},
          "mark": {"type": "rule", "color": "#666a75", "strokeWidth": 1, "strokeDash": [1, 4]},
          "encoding": {
            "x": {"datum": -0.4167, "type": "quantitative", "axis": null},
            "x2": {"datum": 241.25},
            "y": {"field": "level", "type": "quantitative"}
          }
        },
        {
          "data": {"name": "candles"},
          "mark": {"type": "rule", "strokeWidth": 1},
          "encoding": {
            "x": {"field": "i", "type": "quantitative", "axis": null},
            "y": {"field": "l", "type": "quantitative"},
            "y2": {"field": "h"},
            "color": {"condition": {"test": "datum.c >= datum.o", "value": "#4caf50"}, "value": "#ef5350"}
          }
        },
        {
          "data": {"name": "candles"},
          "mark": {"type": "bar", "width": 5, "orient": "vertical"},
          "encoding": {
            "x": {"field": "i", "type": "quantitative", "axis": null},
            "y": {"field": "o", "type": "quantitative"},
            "y2": {"field": "c"},
            "color": {"condition": {"test": "datum.c >= datum.o", "value": "#4caf50"}, "value": "#ef5350"}
          }
        },
        {
          "data": {"name": "legendText"},
          "mark": {"type": "text", "align": "left", "baseline": "middle"},
          "encoding": {
            "x": {"field": "i", "type": "quantitative", "axis": null},
            "y": {"field": "p", "type": "quantitative"},
            "text": {"field": "text"},
            "color": {
              "field": "kind",
              "scale": {"domain": ["muted", "up", "ma20", "ma200", "plain", "blue", "red"], "range": ["#b2b5be", "#4caf50", "#ff9800", "#ff0000", "#e3effd", "#2962ff", "#f7525f"]},
              "legend": null
            }
          }
        },
        {
          "data": {"name": "sideTags"},
          "mark": {"type": "rect", "width": 32, "height": 17, "color": "#e3effd"},
          "encoding": {
            "x": {"datum": 238.75, "type": "quantitative", "axis": null},
            "y": {"field": "at", "type": "quantitative"}
          }
        },
        {
          "data": {"name": "sideTags"},
          "mark": {"type": "text", "align": "center", "baseline": "middle", "color": "#131722"},
          "encoding": {
            "x": {"datum": 238.75, "type": "quantitative", "axis": null},
            "y": {"field": "at", "type": "quantitative"},
            "text": {"field": "text"}
          }
        },
        {
          "data": {"name": "priceTags"},
          "mark": {"type": "rect", "width": 66, "height": 17},
          "encoding": {
            "x": {"datum": 247.08, "type": "quantitative", "axis": null},
            "y": {"field": "at", "type": "quantitative"},
            "color": {"field": "kind", "legend": null}
          }
        },
        {
          "data": {"name": "priceTags"},
          "mark": {"type": "text", "align": "left", "baseline": "middle"},
          "encoding": {
            "x": {"datum": 242.92, "type": "quantitative", "axis": null},
            "y": {"field": "at", "type": "quantitative"},
            "text": {"field": "text"},
            "color": {"condition": {"test": "datum.kind === 'plain'", "value": "#131722"}, "value": "#ffffff"}
          }
        },
        {
          "data": {"values": [{"text": "EUR"}]},
          "mark": {"type": "rect", "width": 64, "height": 26, "fill": "#ffffff", "stroke": "#e6e6e6", "cornerRadius": 4},
          "encoding": {
            "x": {"datum": 247.4, "type": "quantitative", "axis": null},
            "y": {"datum": 27026, "type": "quantitative"}
          }
        },
        {
          "data": {"values": [{"text": "EUR"}]},
          "mark": {"type": "text", "align": "left", "baseline": "middle", "color": "#131722"},
          "encoding": {
            "x": {"datum": 243.6, "type": "quantitative", "axis": null},
            "y": {"datum": 27026, "type": "quantitative"},
            "text": {"field": "text"}
          }
        },
        {
          "data": {"values": [{"icon": "bolt"}]},
          "mark": {"type": "point", "shape": "circle", "size": 260, "filled": false, "stroke": "#9c27b0", "strokeWidth": 2, "opacity": 1},
          "encoding": {
            "x": {"datum": 230.58, "type": "quantitative", "axis": null},
            "y": {"datum": 21496, "type": "quantitative"}
          }
        },
        {
          "data": {"values": [{"icon": "bolt"}]},
          "mark": {"type": "point", "shape": "M0.2 -1 L-0.5 0.15 L-0.05 0.15 L-0.2 1 L0.5 -0.2 L0.05 -0.2 Z", "size": 120, "filled": true, "fill": "#9c27b0", "stroke": null, "opacity": 1},
          "encoding": {
            "x": {"datum": 230.58, "type": "quantitative", "axis": null},
            "y": {"datum": 21496, "type": "quantitative"}
          }
        },
        {
          "data": {"values": [{"icon": "eu"}]},
          "mark": {"type": "point", "shape": "circle", "size": 300, "filled": true, "fill": "#1a4f9c", "stroke": "#f23645", "strokeWidth": 2, "opacity": 1},
          "encoding": {
            "x": {"datum": 233.92, "type": "quantitative", "axis": null},
            "y": {"datum": 21496, "type": "quantitative"}
          }
        },
        {
          "data": {"values": [{"icon": "eu"}]},
          "mark": {"type": "point", "shape": "circle", "size": 90, "filled": false, "stroke": "#f5c518", "strokeWidth": 1.5, "strokeDash": [1.5, 2.5], "opacity": 1},
          "encoding": {
            "x": {"datum": 233.92, "type": "quantitative", "axis": null},
            "y": {"datum": 21496, "type": "quantitative"}
          }
        },
        {
          "data": {"values": [{"level": 21398}]},
          "mark": {"type": "rule", "color": "#1e1e1e", "strokeWidth": 2},
          "encoding": {
            "x": {"datum": -0.4167, "type": "quantitative", "axis": null},
            "x2": {"datum": 253.4167},
            "y": {"field": "level", "type": "quantitative"}
          }
        }
      ]
    },
    {
      "width": 1523,
      "height": 158,
      "view": {"fill": "#ffffff", "stroke": "#8a8a8a"},
      "layer": [
        {
          "data": {"values": [{"top": 70, "bottom": 30}]},
          "mark": {"type": "rect", "color": "#7e57c2", "opacity": 0.1},
          "encoding": {
            "x": {
              "datum": -0.4167,
              "type": "quantitative",
              "scale": {"domain": [-0.4167, 253.4167], "nice": false, "zero": false, "padding": 0},
              "axis": {
                "orient": "bottom",
                "title": null,
                "offset": -14,
                "values": [13, 36, 56, 75, 96, 116, 138, 158, 178, 200, 223],
                "labelExpr": "['Oct','Nov','Dec','2026','Feb','Mar','Apr','May','Jun','Jul','Aug'][indexof([13,36,56,75,96,116,138,158,178,200,223],datum.value)]",
                "labelFontWeight": {"expr": "datum.value === 75 ? 'bold' : 'normal'"},
                "labelBaseline": "middle",
                "labelPadding": 0,
                "labelOverlap": false,
                "ticks": false,
                "domain": false,
                "grid": false
              }
            },
            "x2": {"datum": 241.25},
            "y": {
              "field": "top",
              "type": "quantitative",
              "scale": {"domain": [4, 85.03], "nice": false, "zero": false},
              "axis": {
                "orient": "right",
                "title": null,
                "offset": -63,
                "values": [80, 40, 20],
                "format": ".2f",
                "labelAlign": "left",
                "labelBaseline": "middle",
                "labelPadding": 0,
                "labelOffset": -1,
                "ticks": false,
                "domain": false,
                "grid": false
              }
            },
            "y2": {"field": "bottom"}
          }
        },
        {
          "data": {"name": "rsi"},
          "transform": [{"filter": "datum.i >= 76 && datum.i <= 85"}],
          "mark": {"type": "area", "color": "#4caf50", "opacity": 0.15},
          "encoding": {
            "x": {"field": "i", "type": "quantitative"},
            "y": {"field": "v", "type": "quantitative"},
            "y2": {"datum": 70}
          }
        },
        {
          "data": {"values": [{"level": 70}, {"level": 30}]},
          "mark": {"type": "rule", "color": "#787b86", "strokeWidth": 1, "strokeDash": [5, 3]},
          "encoding": {
            "x": {"datum": -0.4167, "type": "quantitative"},
            "x2": {"datum": 241.25},
            "y": {"field": "level", "type": "quantitative"}
          }
        },
        {
          "data": {"values": [{"level": 50}]},
          "mark": {"type": "rule", "color": "#787b86", "strokeWidth": 1, "strokeDash": [5, 3], "opacity": 0.5},
          "encoding": {
            "x": {"datum": -0.4167, "type": "quantitative"},
            "x2": {"datum": 241.25},
            "y": {"field": "level", "type": "quantitative"}
          }
        },
        {
          "data": {"name": "rsiMa"},
          "mark": {"type": "line", "color": "#fdd835", "strokeWidth": 1},
          "encoding": {
            "x": {"field": "i", "type": "quantitative"},
            "y": {"field": "v", "type": "quantitative"}
          }
        },
        {
          "data": {"name": "rsi"},
          "mark": {"type": "line", "color": "#7e57c2", "strokeWidth": 1},
          "encoding": {
            "x": {"field": "i", "type": "quantitative"},
            "y": {"field": "v", "type": "quantitative"}
          }
        },
        {
          "data": {"values": [
            {"text": "RSI (14, close)", "i": 0.92, "kind": "muted"},
            {"text": "66.80", "i": 14.87, "kind": "rsi"},
            {"text": "63.79", "i": 20.97, "kind": "ma"}
          ]},
          "mark": {"type": "text", "align": "left", "baseline": "middle"},
          "encoding": {
            "x": {"field": "i", "type": "quantitative"},
            "y": {"datum": 76.8, "type": "quantitative"},
            "text": {"field": "text"},
            "color": {"field": "kind", "scale": {"domain": ["muted", "rsi", "ma"], "range": ["#b2b5be", "#7e57c2", "#fdd835"]}, "legend": null}
          }
        },
        {
          "data": {"values": [{"tag": "rsi"}]},
          "mark": {"type": "rect", "width": 25, "height": 17, "color": "#7e57c2"},
          "encoding": {
            "x": {"datum": 239.37, "type": "quantitative"},
            "y": {"datum": 66.72, "type": "quantitative"}
          }
        },
        {
          "data": {"values": [{"tag": "rsi"}]},
          "mark": {"type": "rect", "width": 43, "height": 17, "color": "#7e57c2"},
          "encoding": {
            "x": {"datum": 245.17, "type": "quantitative"},
            "y": {"datum": 66.72, "type": "quantitative"}
          }
        },
        {
          "data": {"values": [{"tag": "ma"}]},
          "mark": {"type": "rect", "width": 79, "height": 17, "color": "#fdd835"},
          "encoding": {
            "x": {"datum": 234.83, "type": "quantitative"},
            "y": {"datum": 58.05, "type": "quantitative"}
          }
        },
        {
          "data": {"values": [{"tag": "ma"}]},
          "mark": {"type": "rect", "width": 43, "height": 17, "color": "#fdd835"},
          "encoding": {
            "x": {"datum": 245.17, "type": "quantitative"},
            "y": {"datum": 58.05, "type": "quantitative"}
          }
        },
        {
          "data": {"values": [{"text": "RSI"}]},
          "mark": {"type": "text", "align": "center", "baseline": "middle", "color": "#ffffff"},
          "encoding": {
            "x": {"datum": 239.37, "type": "quantitative"},
            "y": {"datum": 66.72, "type": "quantitative"},
            "text": {"field": "text"}
          }
        },
        {
          "data": {"values": [{"text": "66.80"}]},
          "mark": {"type": "text", "align": "left", "baseline": "middle", "color": "#ffffff"},
          "encoding": {
            "x": {"datum": 242.92, "type": "quantitative"},
            "y": {"datum": 66.72, "type": "quantitative"},
            "text": {"field": "text"}
          }
        },
        {
          "data": {"values": [{"text": "RSI-based MA"}]},
          "mark": {"type": "text", "align": "center", "baseline": "middle", "color": "#131722"},
          "encoding": {
            "x": {"datum": 234.83, "type": "quantitative"},
            "y": {"datum": 58.05, "type": "quantitative"},
            "text": {"field": "text"}
          }
        },
        {
          "data": {"values": [{"text": "63.79"}]},
          "mark": {"type": "text", "align": "left", "baseline": "middle", "color": "#131722"},
          "encoding": {
            "x": {"datum": 242.92, "type": "quantitative"},
            "y": {"datum": 58.05, "type": "quantitative"},
            "text": {"field": "text"}
          }
        }
      ]
    },
    {
      "width": 1523,
      "height": 61,
      "view": {"stroke": null},
      "encoding": {
        "y": {"datum": 0.5, "type": "quantitative", "scale": {"domain": [0, 1]}, "axis": null}
      },
      "layer": [
        {
          "data": {"values": [{"logo": "TradingView"}]},
          "mark": {"type": "point", "shape": "M-0.98 -0.49 L-0.02 -0.49 L-0.02 0.51 L-0.51 0.51 L-0.51 -0.13 L-0.98 -0.13 Z M-0.02 -0.31 A0.18 0.18 0 1 0 0.34 -0.31 A0.18 0.18 0 1 0 -0.02 -0.31 Z M0.42 -0.49 L0.98 -0.49 L0.58 0.51 L0.02 0.51 Z", "size": 900, "filled": true, "fill": "#e0e0e0", "stroke": null, "opacity": 1},
          "encoding": {
            "x": {"datum": 0.01116, "type": "quantitative", "scale": {"domain": [0, 1]}, "axis": null}
          }
        },
        {
          "data": {"values": [{"text": "TradingView"}]},
          "mark": {"type": "text", "align": "left", "baseline": "middle", "font": "Roboto", "fontWeight": 500, "fontSize": 21.6, "color": "#e0e0e0"},
          "encoding": {
            "x": {"datum": 0.0256, "type": "quantitative", "axis": null},
            "text": {"field": "text"}
          }
        }
      ]
    }
  ]
}
